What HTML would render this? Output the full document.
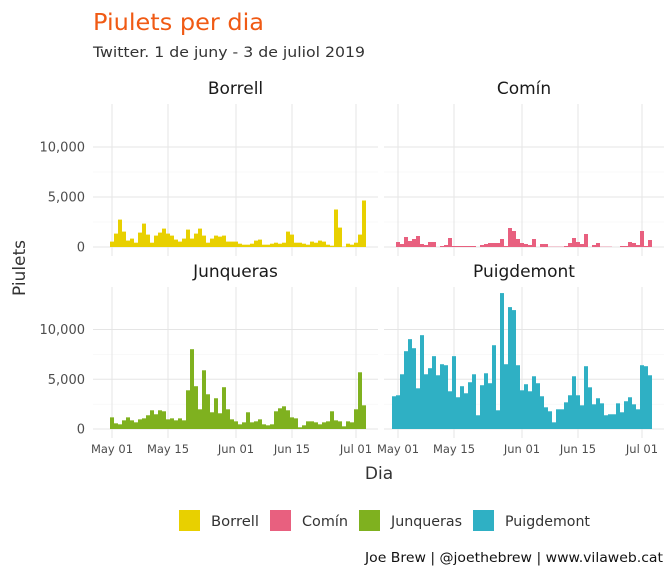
<!DOCTYPE html>
<html><head><meta charset="utf-8"><style>
body{margin:0;background:#fff;font-family:"Liberation Sans","DejaVu Sans",sans-serif;}
svg text{font-family:"DejaVu Sans","Liberation Sans",sans-serif;}
</style></head><body>
<svg id="c" width="672" height="576" xmlns="http://www.w3.org/2000/svg">
<text x="93" y="30" font-size="23.5" fill="#f05a14" textLength="171" lengthAdjust="spacingAndGlyphs">Piulets per dia</text>
<text x="93" y="57" font-size="14.5" fill="#333" textLength="272" lengthAdjust="spacingAndGlyphs">Twitter. 1 de juny - 3 de juliol 2019</text>
<text x="379" y="479" font-size="17" fill="#333" text-anchor="middle">Dia</text>
<text transform="translate(25,268) rotate(-90)" font-size="17" fill="#333" text-anchor="middle">Piulets</text>
<text x="365" y="562" font-size="13.5" fill="#111" textLength="298" lengthAdjust="spacingAndGlyphs">Joe Brew | @joethebrew | www.vilaweb.cat</text>
<g id="panels"></g>
<g id="legend"></g>
</svg>
<script>
const names=["Borrell","Comín","Junqueras","Puigdemont"];
const colors=["#e8d000","#e8607f","#7fb11f","#2fb0c4"];
const startOffsets=[0,0,0,-1]; // days relative to May 01
const borrell=[540,1340,2740,1540,640,840,430,1440,2340,1240,430,1140,1440,1840,1340,1140,740,540,840,1740,840,1340,1840,1140,430,840,1140,1040,1140,540,540,540,330,230,230,330,640,740,230,230,330,430,330,430,1540,1240,430,430,330,230,540,430,640,540,230,130,3750,1940,30,330,230,430,1240,4650];
const comin=[500,300,1000,600,800,1100,300,200,500,500,0,100,200,900,100,100,100,100,100,100,0,200,300,400,400,400,800,100,1900,1600,800,400,300,200,800,0,300,300,30,30,30,30,100,400,900,500,300,1300,0,200,400,30,30,30,0,0,100,100,500,400,200,1600,100,700];
const junqueras=[1170,570,470,870,1170,870,670,970,1070,1380,1880,1480,1880,1780,970,1070,870,1070,870,3890,8020,4300,1980,5900,3490,1680,3090,1580,4200,1980,970,770,470,670,1680,670,770,970,470,370,470,1780,2080,2280,1880,1170,1070,170,370,770,770,670,470,670,770,1780,870,770,270,770,670,1980,5700,2380];
const puigdemont=[3290,3390,5500,7820,9030,8120,4090,9430,5500,6110,7320,5400,6510,6410,3790,7320,3190,4300,3590,4700,5500,1380,4400,5600,4600,8420,1880,13660,6510,12250,11950,6410,3890,4500,3790,5300,4600,3290,2180,1780,670,1980,1980,2680,3390,5300,3390,2380,6310,4190,2480,3090,2580,1380,1480,1480,2580,1680,2790,3190,2480,1980,6410,6310,5400];
const series=[borrell,comin,junqueras,puigdemont];
const yTicks=[0,5000,10000];
const yTickLabels=["0","5,000","10,000"];
const xTickDays=[0,14,31,45,61];
const xTickLabels=["May 01","May 15","Jun 01","Jun 15","Jul 01"];

const NS="http://www.w3.org/2000/svg";
const P=document.getElementById('panels');
function mk(t,a,parent){const e=document.createElementNS(NS,t);for(const k in a)e.setAttribute(k,a[k]);(parent||P).appendChild(e);return e;}
const panels=[{x0:93,x1:378,dx:0,y0:104,y1:256,base:247,k:0.0100},{x0:384,x1:664,dx:286,y0:104,y1:256,base:247,k:0.0100},{x0:93,x1:378,dx:0,y0:287,y1:438,base:429,k:0.00995},{x0:384,x1:664,dx:286,y0:287,y1:438,base:429,k:0.00995}];
const stripY=[94,94,277,277];
function xScale(p,day){return 112+p.dx+4*day;}
function yScale(p,v){return p.base-v*p.k;}
panels.forEach((p,i)=>{
  const g=mk('g',{});
  
  
  yTicks.forEach((t,j)=>{
    const l=mk('line',{x1:p.x0,x2:p.x1,y1:yScale(p,t),y2:yScale(p,t),stroke:'#e5e5e5','stroke-width':1},g);
    
    
    if(j<2){const m=mk('line',{x1:p.x0,x2:p.x1,y1:yScale(p,t+2500),y2:yScale(p,t+2500),stroke:'#f3f3f3','stroke-width':0.6},g);
    
    }
  });
  xTickDays.forEach(d=>{
    const l=mk('line',{x1:xScale(p,d),x2:xScale(p,d),y1:p.y0,y2:p.y1,stroke:'#e5e5e5','stroke-width':1},g);
    
    
  });
  series[i].forEach((v,j)=>{
    const d=startOffsets[i]+j;
    const y=yScale(p,v);
    const r=mk('rect',{x:xScale(p,d)-2,y:y,width:4,height:Math.max(0,p.base-y),fill:colors[i]},g);
    
    
  });
  const s=mk('text',{x:(p.x0+p.x1)/2,y:stripY[i],'text-anchor':'middle','font-size':17,fill:'#1a1a1a'},g);
  s.textContent=names[i];
  
  
  if(i%2===0){yTicks.forEach((t,j)=>{
    const tx=mk('text',{x:85,y:yScale(p,t)+4.5,'text-anchor':'end','font-size':13,fill:'#4d4d4d'},g);
    tx.textContent=yTickLabels[j];
    
    
  });}
  if(i>=2){xTickDays.forEach((d,j)=>{
    const tx=mk('text',{x:xScale(p,d),y:453,'text-anchor':'middle','font-size':11.5,fill:'#4d4d4d'},g);
    tx.textContent=xTickLabels[j];
    
    
  });}
});
const L=document.getElementById('legend');
const legX=[179,270,359,473];
const legW=[48,46,71,85];
names.forEach((n,i)=>{
  const g=mk('g',{},L);
  
  
  mk('rect',{x:legX[i],y:510,width:21,height:21,fill:colors[i]},g);
  const t=mk('text',{x:legX[i]+32,y:526,'font-size':14,fill:'#333',textLength:legW[i],lengthAdjust:'spacingAndGlyphs'},g);
  t.textContent=n;
});
</script>
</body></html>
